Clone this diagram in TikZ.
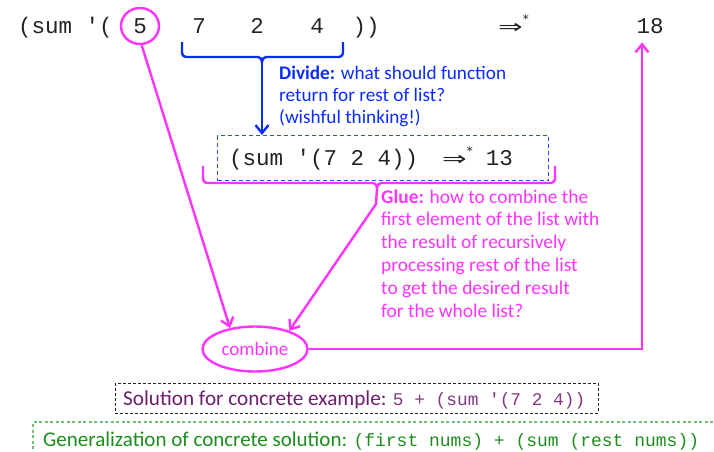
\documentclass[tikz,border=0pt]{standalone}
\usepackage{fontspec}
\usepackage{graphicx}
\setmainfont{Carlito}
\newfontfamily\monof{Liberation Mono}
\newfontfamily\symf{DejaVu Sans}
\usetikzlibrary{arrows.meta,shapes.geometric}
\definecolor{mag}{RGB}{255,51,255}
\definecolor{blu}{RGB}{10,45,255}
\definecolor{blubox}{RGB}{30,80,255}
\definecolor{purp}{RGB}{110,30,110}
\definecolor{purpm}{RGB}{130,55,130}
\definecolor{grn}{RGB}{30,140,30}
\definecolor{grnbox}{RGB}{110,195,110}
\definecolor{ink}{RGB}{35,35,35}
\newcommand{\arrstar}{{\symf\fontsize{19}{24}\selectfont\scalebox{1.55}[1]{⇒}\raisebox{0.5em}{\fontsize{12}{12}\selectfont *}}}
\tikzset{
  magline/.style={draw=mag,line width=2.4pt},
  bluline/.style={draw=blu,line width=2.4pt},
  tip/.style={-{Straight Barb[length=8pt,width=13pt]}},
  topmono/.style={inner sep=0pt,anchor=base,font=\monof\fontsize{22.5}{26}\selectfont,text=ink},
  note/.style={inner sep=0pt,anchor=base west,align=left},
}
\begin{document}
\begin{tikzpicture}[x=1pt,y=-1pt]
\useasboundingbox (0,0) rectangle (714,451);
\clip (0,0) rectangle (714,451);
% top row
\node[topmono,anchor=base west] (sumtop) at (18,33) {(sum '(};
\node[topmono] (n5) at (140,33) {5};
\node[draw=mag,line width=2.4pt,ellipse,minimum width=38pt,minimum height=36pt,inner sep=0pt] (five) at (140,26) {};
\node[topmono] (n7) at (199,33) {7};
\node[topmono] (n2) at (257,33) {2};
\node[topmono] (n4) at (317,33) {4};
\node[topmono] (close) at (366,33) {))};
\node[topmono,anchor=base west,font=\fontsize{22.5}{26}\selectfont] (arr) at (498,33) {\arrstar};
\node[topmono] (res) at (650,33) {18};
% blue brace
\coordinate (btip) at (262,62);
\draw[bluline,line join=round] (182,42) -- (182,53) to[out=-90,in=180] (186,57) -- (258,57) to[out=0,in=90] (btip)
  to[out=90,in=180] (266,57) -- (339,57) to[out=0,in=-90] (343,53) -- (343,42);
% divide text
\node[note,text=blu,font=\fontsize{19.2}{22}\selectfont] (divide) at (279,123) {\textbf{Divide:} what should function\\return for rest of list?\\(wishful thinking!)};
% blue dashed box
\node[draw=blubox,color=blubox,line width=1.4pt,dash pattern=on 4pt off 3pt,minimum width=331pt,minimum height=45pt,anchor=north west,inner sep=0pt] (bbox) at (217,135) {};
\node[inner sep=0pt,anchor=base west,font=\monof\fontsize{22.5}{26}\selectfont,text=ink] (btext) at (229,165) {(sum '(7 2 4))\hspace{24pt}\arrstar\hspace{13pt}13};
\draw[bluline,tip] (btip) -- (bbox.north -| btip);
% magenta brace
\coordinate (gtip) at (377,188);
\coordinate (gbend) at (376,204);
\draw[magline,line join=round] (203,166) -- (203,179) to[out=-90,in=180] (207,183) -- (373,183) to[out=0,in=90] (gtip)
  to[out=90,in=180] (381,183) -- (551,183) to[out=0,in=-90] (555,179) -- (555,166);
% glue text
\node[note,text=mag,font=\fontsize{19.4}{22.8}\selectfont] (glue) at (381,317) {\textbf{Glue:} how to combine the\\first element of the list with\\the result of recursively\\processing rest of the list\\to get the desired result\\for the whole list?};
% combine
\node[draw=mag,line width=2.4pt,ellipse,minimum width=105pt,minimum height=45pt,inner sep=0pt,text=mag,font=\fontsize{19}{22}\selectfont] (combine) at (255,349) {combine};
\draw[magline,tip] (five.-85) -- (combine.140);
\draw[magline,tip] (gtip) -- (gbend) -- (combine.28);
\coordinate (corner) at (642,349);
\draw[magline,tip] (combine.east) -- (corner) -- ([yshift=-9pt]res.south -| corner);
% solution box
\draw[draw=ink,line width=1pt,dash pattern=on 3pt off 2pt] (115,383) rectangle (598,413);
\node[inner sep=0pt,anchor=base west,font=\fontsize{21.2}{24}\selectfont,text=purp] (sol) at (123,405) {Solution for concrete example: {\monof\fontsize{17.8}{22}\selectfont\color{purpm}5 + (sum '(7 2 4))}};
% generalization box
\draw[draw=grnbox,line width=1.2pt,dash pattern=on 3pt off 2.5pt] (33,460) -- (33,422) -- (730,422);
\node[inner sep=0pt,anchor=base west,font=\fontsize{21}{24}\selectfont,text=grn] (gen) at (43,446) {Generalization of concrete solution: {\monof\fontsize{18}{22}\selectfont (first nums) + (sum (rest nums))}};
\end{tikzpicture}
\end{document}
